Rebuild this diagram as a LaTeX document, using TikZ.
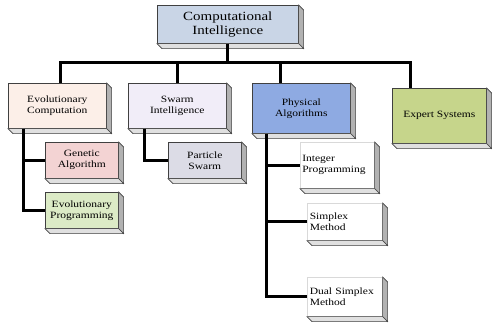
\documentclass[tikz,border=0pt]{standalone}
\usepackage{fontspec}
\setmainfont{Liberation Serif}[FakeStretch=1.2]
\usetikzlibrary{calc}
\definecolor{ciC}{HTML}{C9D5E6}
\definecolor{ecC}{HTML}{FCEFE8}
\definecolor{siC}{HTML}{F1EDF8}
\definecolor{paC}{HTML}{8EAAE2}
\definecolor{esC}{HTML}{C6D58B}
\definecolor{gaC}{HTML}{F3D3D3}
\definecolor{epC}{HTML}{DCEBC6}
\definecolor{psC}{HTML}{DCDCE6}
\tikzset{
  box/.style={draw=black!75, line width=0.6pt, anchor=north west, inner sep=1pt,
    align=center, font=\fontsize{9.6}{11}\selectfont, text=black},
  plainbox/.style={box, draw=black!15, fill=white, align=left},
  bevelR/.style={draw=black!75, line width=0.6pt, fill=black!30},
  bevelB/.style={draw=black!75, line width=0.6pt, fill=black!12},
  link/.style={line width=3pt, black},
}
\newcommand\bevel[1]{%
  \path[bevelR] (#1.north east) -- ++(5,5) -- ($(#1.south east)+(5,5)$) -- (#1.south east) -- cycle;
  \path[bevelB] (#1.south west) -- ++(5,5) -- ($(#1.south east)+(5,5)$) -- (#1.south east) -- cycle;}
\begin{document}
\begin{tikzpicture}[x=1pt,y=-1pt]
\useasboundingbox (0,0) rectangle (492,322);
% top level
\node[box, fill=ciC, minimum width=141, minimum height=38, font=\fontsize{12.5}{14.5}\selectfont] (CI) at (157,5) {Computational\\Intelligence};
\bevel{CI}
% second level
\node[box, fill=ecC, minimum width=98, minimum height=45] (EC) at (8,83) {Evolutionary\\Computation};
\bevel{EC}
\node[box, fill=siC, minimum width=98, minimum height=45] (SI) at (128,83) {Swarm\\Intelligence};
\bevel{SI}
\node[box, fill=paC, minimum width=98, minimum height=50] (PA) at (252,83) {Physical\\Algorithms};
\bevel{PA}
\node[box, fill=esC, minimum width=94, minimum height=55] (ES) at (392,88) {Expert Systems};
\bevel{ES}
% third level
\node[box, fill=gaC, minimum width=73, minimum height=36] (GA) at (45,142) {Genetic\\Algorithm};
\bevel{GA}
\node[box, fill=epC, minimum width=73, minimum height=36] (EP) at (45,192) {Evolutionary\\Programming};
\bevel{EP}
\node[box, fill=psC, minimum width=73, minimum height=36] (PS) at (168,142) {Particle\\Swarm};
\bevel{PS}
\node[plainbox, minimum width=74, minimum height=46, text width=70] (IP) at (300,142) {Integer\\Programming};
\bevel{IP}
\node[plainbox, minimum width=75, minimum height=37, text width=70] (SM) at (307,203) {Simplex\\Method};
\bevel{SM}
\node[plainbox, minimum width=75, minimum height=39, text width=70] (DS) at (307,277) {Dual Simplex\\Method};
\bevel{DS}
% connectors
\coordinate (busL) at (60,62);
\coordinate (busR) at (410,62);
\draw[link] (CI.south) -- (CI.south |- busL);
\draw[link] (busL |- EC.north) -- (busL) -- (busR) -- (busR |- ES.north);
\draw[link] (SI.north |- busL) -- (SI.north);
\coordinate (paTop) at ([xshift=28]PA.north west);
\draw[link] (paTop |- busL) -- (paTop);
\coordinate (ecS) at ([xshift=15]EC.south west);
\draw[link] (ecS) |- (EP.west);
\draw[link] (ecS |- GA.west) -- (GA.west);
\coordinate (siS) at ([xshift=16]SI.south west);
\draw[link] (siS) |- (PS.west);
\coordinate (paS) at ([xshift=14]PA.south west);
\draw[link] (paS) |- (DS.west);
\draw[link] (paS |- IP.west) -- (IP.west);
\draw[link] (paS |- SM.west) -- (SM.west);
\end{tikzpicture}
\end{document}
